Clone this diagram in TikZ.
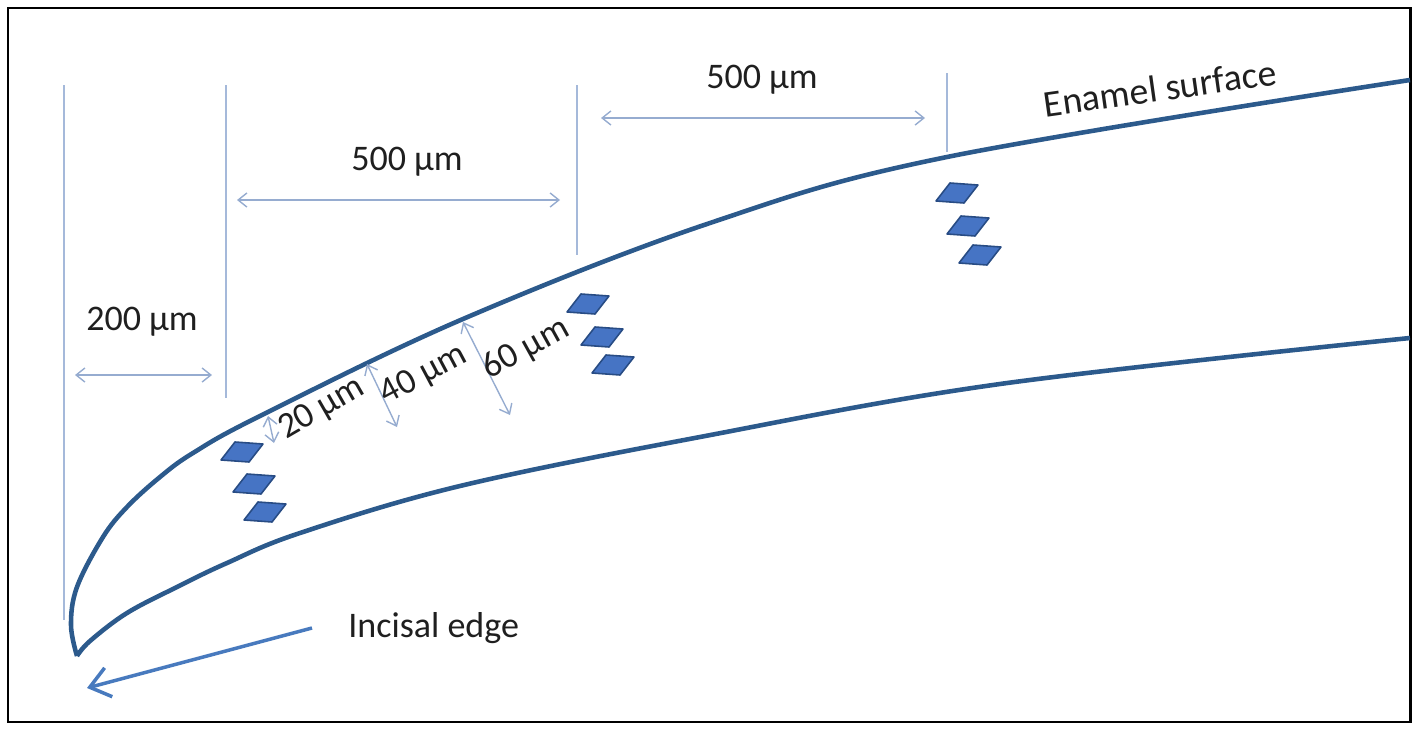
\documentclass[tikz,border=0pt]{standalone}
\usepackage{fontspec}
\setmainfont{Carlito}
\usetikzlibrary{arrows.meta}
\definecolor{enamel}{RGB}{44,90,140}
\definecolor{guidecol}{RGB}{165,185,218}
\definecolor{dimcol}{RGB}{150,172,208}
\definecolor{pointcol}{RGB}{72,122,190}
\definecolor{cellfill}{RGB}{70,116,196}
\definecolor{celldraw}{RGB}{40,76,132}
\begin{document}
\begin{tikzpicture}[x=0.02cm, y=-0.02cm,
    guide/.style = {draw=guidecol, line width=1.1pt},
    dim/.style = {draw=dimcol, line width=0.8pt,
      {Straight Barb[length=5pt,width=8pt]}-{Straight Barb[length=5pt,width=8pt]}},
    pointer/.style = {draw=pointcol, line width=2pt, -{Straight Barb[length=11pt,width=17pt]}},
    lab/.style = {font=\fontsize{20.5}{24}\selectfont, text=black!88, inner sep=0pt},
    cell/.style = {fill=cellfill, draw=celldraw, line width=0.9pt, line join=round},
    curve/.style = {draw=enamel, line width=2.6pt, line join=round}]
    \useasboundingbox (0,0) rectangle (1418,730);
    \draw[line width=1.7pt] (8,8) rectangle (1410,722);
    % tooth outline
    \draw[curve] plot[smooth, tension=0.6] coordinates {(77,656) (71,625) (77,587) (103,537) (127,507) (160,477)
        (193,453) (260,416) (463,319) (710,223) (947,157) (1410,80)};
    \draw[curve] plot[smooth, tension=0.6] coordinates {(77,656) (90,641) (127,613) (177,587) (227,563) (300,533)
        (460,486) (700,437) (1000,384) (1410,338)};
    % guide lines
    \coordinate (g1t) at (64,85);   \coordinate (g1b) at (64,620);
    \coordinate (g2t) at (226,85);  \coordinate (g2b) at (226,398);
    \coordinate (g3t) at (577,85);  \coordinate (g3b) at (577,255);
    \coordinate (g4t) at (947,73);  \coordinate (g4b) at (947,152);
    \draw[guide] (g1t) -- (g1b);
    \draw[guide] (g2t) -- (g2b);
    \draw[guide] (g3t) -- (g3b);
    \draw[guide] (g4t) -- (g4b);
    % distances
    \coordinate (d200l) at (75,375);   \coordinate (d200r) at (212,375);
    \coordinate (d500al) at (237,200); \coordinate (d500ar) at (560,200);
    \coordinate (d500bl) at (601,118); \coordinate (d500br) at (925,118);
    \draw[dim] (d200l) -- (d200r);
    \draw[dim] (d500al) -- (d500ar);
    \draw[dim] (d500bl) -- (d500br);
    \node[lab] (l200) at (142,322) {200 µm};
    \node[lab] (l500a) at (407,162) {500 µm};
    \node[lab] (l500b) at (762,80) {500 µm};
    % depths
    \coordinate (d20t) at (268,416); \coordinate (d20b) at (274,443);
    \coordinate (d40t) at (367,364); \coordinate (d40b) at (397,427);
    \coordinate (d60t) at (463,322); \coordinate (d60b) at (510,415);
    \draw[dim] (d20t) -- (d20b);
    \draw[dim] (d40t) -- (d40b);
    \draw[dim] (d60t) -- (d60b);
    \node[lab, rotate=30] (l20) at (322,409) {20 µm};
    \node[lab, rotate=28] (l40) at (424,375) {40 µm};
    \node[lab, rotate=29] (l60) at (526,349) {60 µm};
    % sample spots
    \foreach \cx/\cy in {242/452, 254/484, 265/512, 588/304, 602/337, 613/365, 957/193, 968/226, 980/255}
        \filldraw[cell] (\cx-7,\cy-10) -- ++(28,2) -- ++(-14,18) -- ++(-28,-2) -- cycle;
    \node[lab, font=\fontsize{21.5}{25}\selectfont, rotate=8] (lenamel) at (1160,88) {Enamel surface};
    \node[lab, anchor=west] (lincisal) at (348,628) {Incisal edge};
    \coordinate (edge) at (87,688);
    \draw[pointer] ([xshift=-36*0.02cm]lincisal.west) -- (edge);
\end{tikzpicture}
\end{document}
